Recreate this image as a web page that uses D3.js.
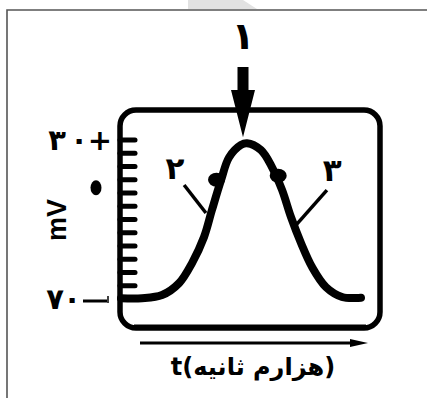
<!DOCTYPE html>
<html><head><meta charset="utf-8">
<script src="https://cdn.jsdelivr.net/npm/d3@7"></script>
<style>html,body{margin:0;padding:0;background:#fff;}svg{display:block;}</style>
</head><body>
<script>
// time in thousandths of a second (arbitrary units along the box)
const times = [0, 0.875, 1.71, 2.42, 2.96, 3.46, 3.79, 4.17, 4.5, 5.0, 5.25, 5.83, 6.29, 6.71, 7.08, 7.5, 7.96, 8.54, 9.21, 9.79, 10];
const volts = [-69.5, -69.5, -67.5, -60, -47.4, -31, -14, 4.8, 19, 26.9, 28, 23.7, 13, -1.4, -18.4, -34.8, -49.9, -62.5, -68.7, -69.4, -69.2];
const yTickLabels = ["۳۰+", "۰", "۷۰"];
const yTickValues = [30, 0, -70];
const pointLabels = ["۱", "۲", "۳"];
const markerT = [3.98, 6.55];
const markerV = [5, 7.5];
const axisLabelY = "mV";
const axisLabelX = "t(هزارم ثانیه)";

const W = 427, H = 398;
const svg = d3.select("body").append("svg").attr("width", W).attr("height", H);

const x = d3.scaleLinear().domain([0, 10]).range([121, 361]);
const y = d3.scaleLinear().domain([-70, 30]).range([299, 140]);

// page frame + faint watermark
svg.append("path").attr("d", "M188,0 L243,0 L257,9 L188,9 Z").attr("fill", "#e2e2e2");
svg.append("path").attr("d", `M7,${H} L7,10 L${W},10`).attr("fill", "none").attr("stroke", "#555").attr("stroke-width", 1.6);

// rounded box
const box = {x0: 120, x1: 380, y0: 110, y1: 328};
svg.append("rect").attr("x", box.x0).attr("y", box.y0).attr("width", box.x1 - box.x0).attr("height", box.y1 - box.y0)
  .attr("rx", 16).attr("fill", "none").attr("stroke", "#000").attr("stroke-width", 5.5);
svg.append("line").attr("x1", box.x0 + 14).attr("x2", box.x1 - 14).attr("y1", box.y1 - 1.5).attr("y2", box.y1 - 1.5)
  .attr("stroke", "#000").attr("stroke-width", 4);

// tick comb on left side
const tickVals = d3.range(13).map(k => 30 - k * 100 / 12);
svg.append("g").selectAll("line").data(tickVals).join("line")
  .attr("x1", box.x0).attr("x2", box.x0 + 15)
  .attr("y1", d => y(d)).attr("y2", d => y(d))
  .attr("stroke", "#000").attr("stroke-width", 5).attr("stroke-linecap", "round");

// y labels, glyph by glyph (left to right)
const fontFa = "'DejaVu Sans', sans-serif";
function glyphRow(str, xs, v, size) {
  Array.from(str).forEach((ch, i) => {
    svg.append("text").attr("x", xs[i]).attr("y", y(v)).attr("dy", "0.35em").attr("text-anchor", "middle")
      .attr("direction", "ltr").attr("font-family", fontFa).attr("font-weight", "bold").attr("font-size", size).text(ch);
  });
}
glyphRow(yTickLabels[0], [57, 79, 100], yTickValues[0], 29);
svg.append("ellipse").attr("cx", 96).attr("cy", y(yTickValues[1])).attr("rx", 5.5).attr("ry", 7.5).attr("fill", "#000");
glyphRow(yTickLabels[2], [55, 72], yTickValues[2], 29);
svg.append("line").attr("x1", 83).attr("x2", 107).attr("y1", y(-70) + 2).attr("y2", y(-70) + 2).attr("stroke", "#000").attr("stroke-width", 3);
svg.append("line").attr("x1", 108).attr("x2", 108).attr("y1", y(-70) - 3).attr("y2", y(-70) + 4).attr("stroke", "#000").attr("stroke-width", 1.5);

// mV
svg.append("text").attr("transform", `translate(57,${220}) rotate(-90)`).attr("text-anchor", "middle").attr("dy", "0.35em")
  .attr("font-family", "'Liberation Sans', Arial, sans-serif").attr("font-weight", "bold").attr("font-size", 27).text(axisLabelY);

// curve
const pts = times.map((t, i) => [t, volts[i]]);
const line = d3.line().x(d => x(d[0])).y(d => y(d[1])).curve(d3.curveCatmullRom.alpha(0.5));
svg.append("path").attr("d", line(pts)).attr("fill", "none").attr("stroke", "#000")
  .attr("stroke-width", 8).attr("stroke-linecap", "round").attr("stroke-linejoin", "round");

// markers at 2 and 3
svg.append("g").selectAll("ellipse").data(markerT).join("ellipse")
  .attr("cx", (d, i) => x(d)).attr("cy", (d, i) => y(markerV[i]))
  .attr("rx", 8.5).attr("ry", 7).attr("fill", "#000");

// annotation lines
const ann = [
  {lab: pointLabels[1], lt: 2.25, lv: 12.4, a: [2.63, 1.7], b: [3.54, -15.9]},
  {lab: pointLabels[2], lt: 8.8, lv: 11.1, a: [8.58, -1.5], b: [7.29, -23.5]}
];
ann.forEach(o => {
  svg.append("line").attr("x1", x(o.a[0])).attr("y1", y(o.a[1])).attr("x2", x(o.b[0])).attr("y2", y(o.b[1]))
    .attr("stroke", "#000").attr("stroke-width", 3.5);
  svg.append("text").attr("x", x(o.lt)).attr("y", y(o.lv)).attr("dy", "0.35em").attr("text-anchor", "middle")
    .attr("font-family", fontFa).attr("font-weight", "bold").attr("font-size", 31).text(o.lab);
});

// arrow 1 at peak
const peakI = d3.maxIndex(volts);
const px = x(times[peakI]) - 4, tipY = y(volts[peakI]) - 6;
svg.append("path").attr("d", `M${px - 5.5},67 L${px + 5.5},67 L${px + 5.5},90 L${px + 12},90 L${px},${tipY} L${px - 12},90 L${px - 5.5},90 Z`)
  .attr("fill", "#000");
svg.append("text").attr("x", px).attr("y", 36).attr("dy", "0.35em").attr("text-anchor", "middle")
  .attr("font-family", fontFa).attr("font-weight", "bold").attr("font-size", 38).text(pointLabels[0]);

// time arrow
svg.append("line").attr("x1", 140).attr("x2", 355).attr("y1", 343).attr("y2", 343).attr("stroke", "#000").attr("stroke-width", 3);
svg.append("path").attr("d", "M350,339 L368,343 L350,347 Z").attr("fill", "#000");
svg.append("text").attr("x", 253).attr("y", 367).attr("dy", "0.35em").attr("text-anchor", "middle")
  .attr("font-family", fontFa).attr("font-weight", "bold").attr("font-size", 24).text(axisLabelX);
</script>
</body></html>
